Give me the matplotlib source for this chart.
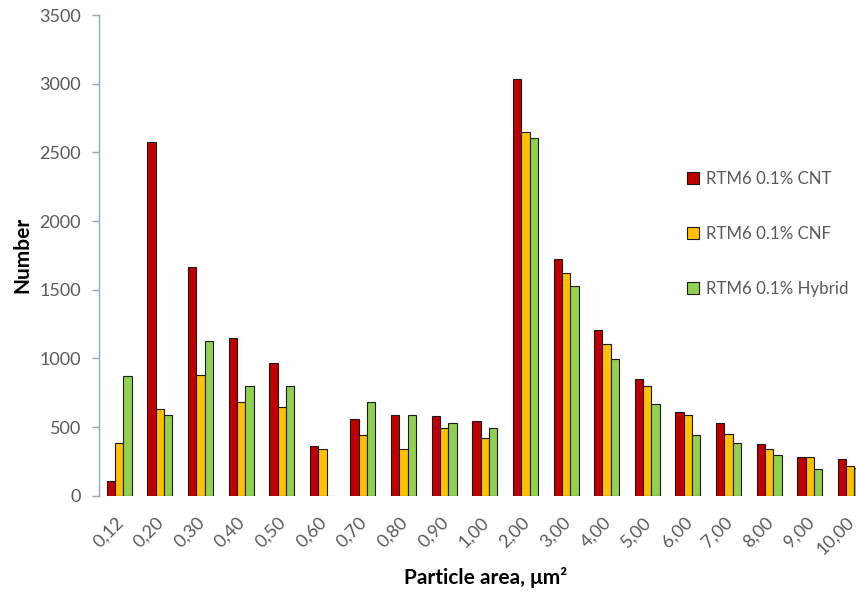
import matplotlib
matplotlib.use("Agg")
import matplotlib.pyplot as plt
import numpy as np
from matplotlib.patches import Patch
from matplotlib.transforms import ScaledTranslation

categories = ["0,12", "0,20", "0,30", "0,40", "0,50", "0,60", "0,70", "0,80", "0,90", "1,00",
              "2,00", "3,00", "4,00", "5,00", "6,00", "7,00", "8,00", "9,00", "10,00"]
cnt = [107, 2576, 1663, 1151, 964, 362, 556, 586, 578, 546,
       3035, 1726, 1209, 850, 612, 527, 377, 282, 265]
cnf = [382, 629, 879, 680, 648, 338, 442, 338, 491, 418,
       2651, 1620, 1103, 799, 586, 447, 338, 282, 216]
hybrid = [872, 586, 1125, 799, 799, 0, 685, 586, 527, 491,
          2603, 1525, 993, 666, 440, 382, 296, 197, 202]
series_names = ["RTM6 0.1% CNT", "RTM6 0.1% CNF", "RTM6 0.1% Hybrid"]
colors = ["#C00000", "#FFC000", "#92D050"]

plt.rcParams['font.family'] = ['Lato', 'DejaVu Sans']

fig = plt.figure(figsize=(8.56, 5.94), dpi=100)
W, H = 856, 594
ax_left, ax_right, ax_top, ax_bot = 99, 99 + 771.6, 15, 495.7
ax = fig.add_axes([ax_left / W, (H - ax_bot) / H, (ax_right - ax_left) / W, (ax_bot - ax_top) / H])

x = np.arange(len(categories))
w = 0.205
for i, (vals, c) in enumerate(zip([cnt, cnf, hybrid], colors)):
    ax.bar(x + (i - 1) * w, vals, width=w, color=c, edgecolor="#1a1a1a", linewidth=0.8,
           label=series_names[i], zorder=3)

ax.set_xlim(-0.5, len(categories) - 0.5)
ax.set_ylim(0, 3500)
ax.set_yticks(np.arange(0, 3501, 500))
ax.set_xticks(x)
ax.set_xticklabels(categories, rotation=45, ha="right", va="top", rotation_mode="anchor",
                   fontsize=13, color="#595959")
ax.tick_params(axis="x", length=0, pad=13)
off = ScaledTranslation(-4 / 100, 0, fig.dpi_scale_trans)
for lab in ax.get_xticklabels():
    lab.set_transform(lab.get_transform() + off)
ax.tick_params(axis="y", direction="out", length=5, width=1, color="#8EA9C1",
               labelsize=13, labelcolor="#595959", pad=8)
for s in ["top", "right", "bottom"]:
    ax.spines[s].set_visible(False)
ax.spines["left"].set_color("#8EA9C1")
ax.spines["left"].set_linewidth(1)

fig.text(486 / W, 1 - 577 / H, "Particle area, μm²", ha="center", va="center",
         fontsize=15, fontweight="bold", color="black")
fig.text(22 / W, 1 - 255 / H, "Number", ha="center", va="center", rotation=90,
         fontsize=15, fontweight="bold", color="black")

handles = [Patch(facecolor=c, edgecolor="#1a1a1a", linewidth=0.8) for c in colors]
leg = fig.legend(handles, series_names, loc="upper left", bbox_to_anchor=(680 / W, 1 - 164 / H),
                 frameon=False, fontsize=12.2, labelcolor="#595959", labelspacing=2.3,
                 handlelength=0.75, handleheight=0.75, handletextpad=0.4, borderaxespad=0)

fig.savefig("out.png", dpi=100)
